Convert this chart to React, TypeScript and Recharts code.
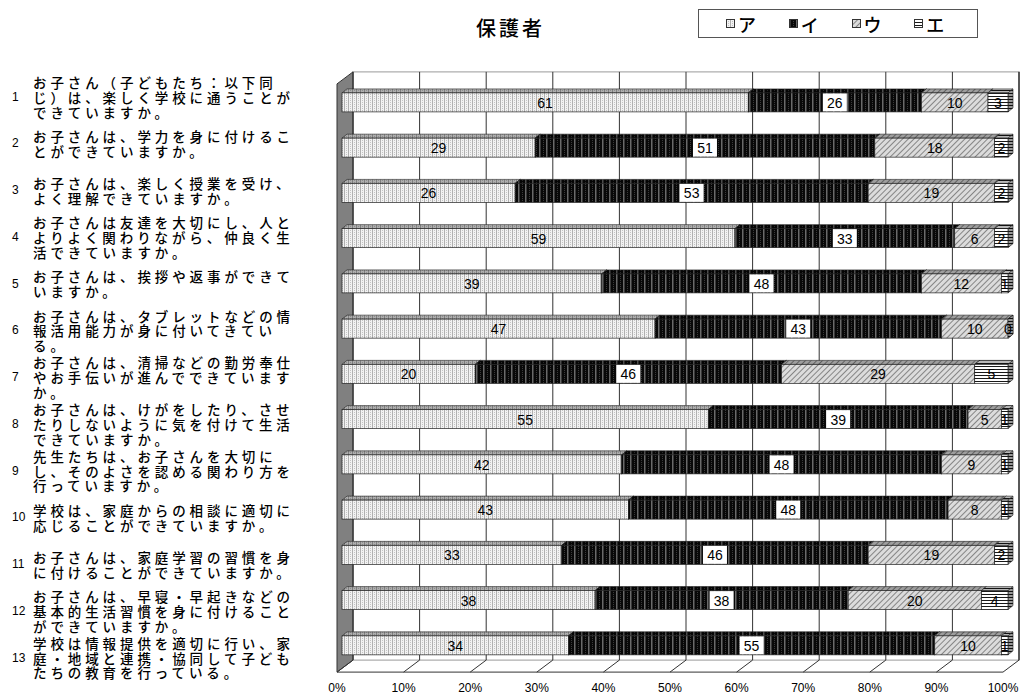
import React from "react";
import { Bar, BarChart, CartesianGrid, LabelList, Legend, XAxis, YAxis } from "recharts";

// 設問番号と設問文（参照画像どおりの改行位置）
const QUESTION_NO = ["1", "2", "3", "4", "5", "6", "7", "8", "9", "10", "11", "12", "13"];
const QUESTION_TEXT = [
  ["お子さん（子どもたち：以下同", "じ）は、楽しく学校に通うことが", "できていますか。"],
  ["お子さんは、学力を身に付けるこ", "とができていますか。"],
  ["お子さんは、楽しく授業を受け、", "よく理解できていますか。"],
  ["お子さんは友達を大切にし、人と", "よりよく関わりながら、仲良く生", "活できていますか。"],
  ["お子さんは、挨拶や返事ができて", "いますか。"],
  ["お子さんは、タブレットなどの情", "報活用能力が身に付いてきてい", "る。"],
  ["お子さんは、清掃などの勤労奉仕", "やお手伝いが進んでできています", "か。"],
  ["お子さんは、けがをしたり、させ", "たりしないように気を付けて生活", "できていますか。"],
  ["先生たちは、お子さんを大切に", "し、そのよさを認める関わり方を", "行っていますか。"],
  ["学校は、家庭からの相談に適切に", "応じることができていますか。"],
  ["お子さんは、家庭学習の習慣を身", "に付けることができていますか。"],
  ["お子さんは、早寝・早起きなどの", "基本的生活習慣を身に付けること", "ができていますか。"],
  ["学校は情報提供を適切に行い、家", "庭・地域と連携・協同して子ども", "たちの教育を行っている。"],
];

const SERIES_NAMES = ["ア", "イ", "ウ", "エ"];
const VALUES_A = [61, 29, 26, 59, 39, 47, 20, 55, 42, 43, 33, 38, 34];
const VALUES_I = [26, 51, 53, 33, 48, 43, 46, 39, 48, 48, 46, 38, 55];
const VALUES_U = [10, 18, 19, 6, 12, 10, 29, 5, 9, 8, 19, 20, 10];
const VALUES_E = [3, 2, 2, 2, 1, 0, 5, 1, 1, 1, 2, 4, 1];
const X_TICKS = [0, 0.1, 0.2, 0.3, 0.4, 0.5, 0.6, 0.7, 0.8, 0.9, 1];

const data = QUESTION_NO.map((no, k) => ({
  no,
  a: VALUES_A[k],
  i: VALUES_I[k],
  u: VALUES_U[k],
  e: VALUES_E[k],
}));

const KEYS = ["a", "i", "u", "e"];
const PATTERNS = ["pat-a", "pat-b", "pat-c", "pat-d"];

const JP = "'Noto Sans CJK JP', 'Noto Sans', sans-serif";
const NUM = "'Liberation Sans', Arial, sans-serif";

const BAR_DX = 5;
const BAR_DY = 4;
const FRONT_DX = -5;
const WALL_DX = 16;
const WALL_DY = 12;

// 設問文はセル側に置かれていて、棒より少し広い間隔で並んでいる
const labelNudge = (k: number) => -5.8 + 1.5 * k;

function Bar3D(props: any) {
  const { x, y, width, height, patternId } = props;
  if (x == null || y == null) return null;
  const w = Math.max(width || 0, 0);
  const fill = `url(#${patternId})`;
  const top = `${x},${y} ${x + BAR_DX},${y - BAR_DY} ${x + w + BAR_DX},${y - BAR_DY} ${x + w},${y}`;
  const side = `${x + w},${y} ${x + w + BAR_DX},${y - BAR_DY} ${x + w + BAR_DX},${y + height - BAR_DY} ${x + w},${y + height}`;
  return (
    <g>
      <polygon points={top} fill={fill} />
      <polygon points={top} fill="#000" fillOpacity={0.28} stroke="#222" strokeWidth={0.6} />
      <polygon points={side} fill={fill} />
      <polygon points={side} fill="#000" fillOpacity={0.4} stroke="#222" strokeWidth={0.6} />
      <rect x={x} y={y} width={w} height={height} fill={fill} stroke="#222" strokeWidth={0.7} />
    </g>
  );
}

const makeLabel = (boxed: boolean) => (p: any) => {
  const { x, y, width, height, value } = p;
  if (value == null) return null;
  const cx = x + width / 2;
  const cy = y + height / 2;
  const txt = String(value);
  const bw = txt.length * 8 + 8;
  return (
    <g>
      {boxed && <rect x={cx - bw / 2} y={y + 0.5} width={bw} height={height - 1} fill="#fff" />}
      <text x={cx} y={cy + 0.5} textAnchor="middle" dominantBaseline="central" fontFamily={NUM} fontSize={14} fill="#000">
        {txt}
      </text>
    </g>
  );
};

function GridLine(p: any) {
  const { x1, y1, y2, index } = p;
  const frontX = x1 + FRONT_DX;
  const backX = frontX + WALL_DX;
  const floorFront = y2 + 4;
  const floorBack = floorFront - WALL_DY;
  const backTop = y1 - 8;
  const plotW = typeof p.width === "number" ? p.width : 666;
  return (
    <g>
      {index === 0 && (
        <g>
          <rect x={backX} y={backTop} width={plotW} height={floorBack - backTop} fill="#fff" stroke="#9a9a9a" />
          <line x1={backX + plotW} y1={backTop} x2={backX + plotW} y2={floorBack} stroke="#333" />
          <polygon
            points={`${frontX},${backTop + WALL_DY} ${backX},${backTop} ${backX},${floorBack} ${frontX},${floorFront}`}
            fill="#808080"
            stroke="#333"
          />
          <line x1={frontX} y1={floorFront} x2={frontX + plotW} y2={floorFront} stroke="#333" />
        </g>
      )}
      <line x1={backX} y1={backTop} x2={backX} y2={floorBack} stroke="#333" />
      <line x1={backX} y1={floorBack} x2={frontX} y2={floorFront} stroke="#333" />
    </g>
  );
}

function XTick(p: any) {
  return (
    <text x={p.x + FRONT_DX} y={p.y + 16} textAnchor="middle" fontFamily={NUM} fontSize={12} fill="#000">
      {`${Math.round(p.payload.value * 100)}%`}
    </text>
  );
}

function YTick(p: any) {
  const idx = QUESTION_NO.indexOf(p.payload.value);
  const lines = QUESTION_TEXT[idx] || [];
  const cy = p.y + labelNudge(idx);
  const lh = 14.8;
  const y0 = cy - ((lines.length - 1) * lh) / 2;
  return (
    <g>
      <text x={12} y={cy} dominantBaseline="central" fontFamily={NUM} fontSize={12} fill="#000">
        {p.payload.value}
      </text>
      {lines.map((l, k) => (
        <text
          key={k}
          x={33}
          y={y0 + k * lh}
          dominantBaseline="central"
          fontFamily={JP}
          fontSize={13.5}
          fontWeight={500}
          letterSpacing={3.9}
          fill="#000"
        >
          {l}
        </text>
      ))}
    </g>
  );
}

function LegendBox(props: any) {
  const payload = props.payload || [];
  return (
    <div
      style={{
        boxSizing: "border-box",
        height: 29,
        border: "1px solid #555",
        background: "#fff",
        display: "flex",
        alignItems: "center",
        paddingLeft: 27,
      }}
    >
      {payload.map((entry: any, k: number) => (
        <div key={k} style={{ width: 64, display: "flex", alignItems: "center" }}>
          <svg width={9} height={9}>
            <rect x={0.5} y={0.5} width={8} height={8} fill={`url(#${PATTERNS[k]})`} stroke="#333" />
          </svg>
          <span
            style={{ marginLeft: 3, fontFamily: JP, fontSize: 18, fontWeight: 500, lineHeight: "20px", color: "#000" }}
          >
            {entry.value}
          </span>
        </div>
      ))}
    </div>
  );
}

export default function App() {
  return (
    <div style={{ position: "absolute", left: 0, top: 0, width: 1021, height: 695, background: "#fff" }}>
      <div
        style={{
          position: "absolute",
          left: 0,
          top: 14,
          width: 1021,
          textAlign: "center",
          fontFamily: JP,
          fontSize: 20,
          fontWeight: 500,
          lineHeight: "28px",
          letterSpacing: 3,
          color: "#000",
        }}
      >
        保護者
      </div>
      <BarChart
        width={1021}
        height={695}
        data={data}
        layout="vertical"
        stackOffset="expand"
        barSize={19}
        margin={{ top: 79.9, right: 13, bottom: 6.9, left: 0 }}
      >
        <defs>
          <pattern id="pat-a" patternUnits="userSpaceOnUse" width={4} height={2}>
            <rect width={4} height={2} fill="#f2f2f2" />
            <rect x={0} y={0} width={1} height={2} fill="#b0b0b0" />
            <rect x={2} y={0} width={1} height={1} fill="#c4c4c4" />
          </pattern>
          <pattern id="pat-b" patternUnits="userSpaceOnUse" width={7} height={2}>
            <rect width={7} height={2} fill="#080808" />
            <rect x={0} y={0} width={1.5} height={2} fill="#6a6a6a" />
            <rect x={4} y={0} width={1} height={1} fill="#3a3a3a" />
          </pattern>
          <pattern id="pat-c" patternUnits="userSpaceOnUse" width={4} height={4} patternTransform="rotate(45)">
            <rect width={4} height={4} fill="#dcdcdc" />
            <rect x={0} y={0} width={1} height={4} fill="#858585" />
          </pattern>
          <pattern id="pat-d" patternUnits="userSpaceOnUse" width={4} height={3}>
            <rect width={4} height={3} fill="#fff" />
            <rect x={0} y={0} width={4} height={1} fill="#1a1a1a" />
          </pattern>
        </defs>
        <CartesianGrid horizontal={false} vertical={GridLine} />
        <XAxis
          type="number"
          domain={[0, 1]}
          ticks={X_TICKS}
          height={20}
          axisLine={false}
          tickLine={false}
          tick={XTick}
        />
        <YAxis
          type="category"
          dataKey="no"
          width={342}
          interval={0}
          axisLine={false}
          tickLine={false}
          tick={YTick}
        />
        <Legend
          layout="horizontal"
          align="center"
          verticalAlign="middle"
          wrapperStyle={{ left: 698, top: 9, width: 280, height: 29 }}
          content={LegendBox}
        />
        {KEYS.map((key, k) => (
          <Bar
            key={key}
            dataKey={key}
            name={SERIES_NAMES[k]}
            stackId="s"
            fill="#888"
            isAnimationActive={false}
            shape={(p: any) => <Bar3D {...p} patternId={PATTERNS[k]} />}
          >
            <LabelList dataKey={key} content={makeLabel(k === 1)} />
          </Bar>
        ))}
      </BarChart>
    </div>
  );
}
